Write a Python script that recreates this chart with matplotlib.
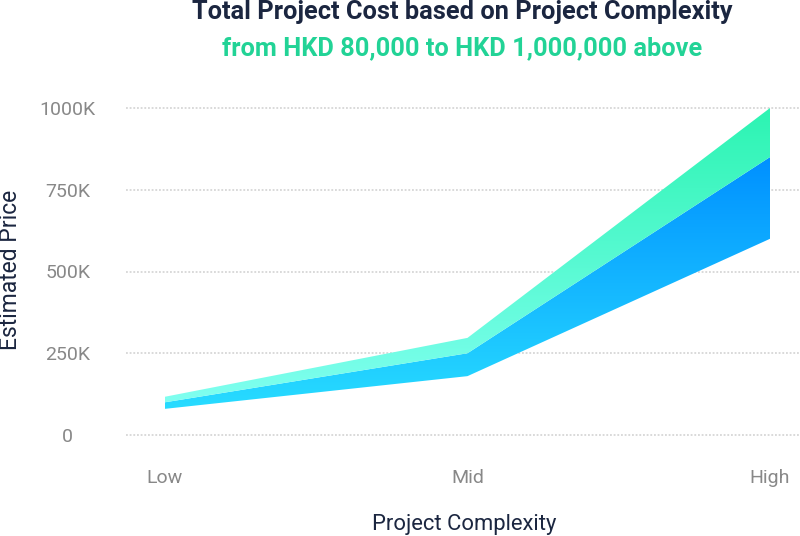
import numpy as np
import matplotlib
matplotlib.use("Agg")
import matplotlib.pyplot as plt
from matplotlib.colors import LinearSegmentedColormap
from matplotlib.patches import PathPatch

# ---- data ----
categories = ["Low", "Mid", "High"]
band_low = [80, 180, 600]      # lower bound (K HKD)
band_mid = [100, 250, 850]     # boundary between bands
band_high = [117, 297, 1000]   # upper bound
yticks = [0, 250, 500, 750, 1000]
ytick_labels = ["0", "250K", "500K", "750K", "1000K"]

plt.rcParams['font.family'] = ['Roboto', 'DejaVu Sans']

W, H = 800, 536
fig = plt.figure(figsize=(W / 100, H / 100), dpi=100)

# axes placement in pixels
ax_left, ax_right, ax_top, ax_bot = 126, 800, 100, 445
ax = fig.add_axes([ax_left / W, 1 - ax_bot / H, (ax_right - ax_left) / W, (ax_bot - ax_top) / H])

# scales: 0 at y=435px, 1000 at y=108px ; Low at x=165, High at x=770
kpp = 1000 / (435 - 108)
ax.set_ylim(-(ax_bot - 435) * kpp, 1000 + (108 - ax_top) * kpp)
upp = 2 / (770 - 165)
ax.set_xlim(-(165 - ax_left) * upp, 2 + (ax_right - 770) * upp)

x = np.arange(len(categories))

def grad_band(lo, hi, c_top, c_bot, y_top, y_bot, z):
    poly = ax.fill_between(x, lo, hi, color='none', lw=0)
    path = poly.get_paths()[0]
    patch = PathPatch(path, facecolor='none', edgecolor='none', transform=ax.transData)
    ax.add_patch(patch)
    cmap = LinearSegmentedColormap.from_list('g', [c_bot, c_top])
    grad = np.linspace(0, 1, 256).reshape(-1, 1)
    im = ax.imshow(grad, cmap=cmap, origin='lower', aspect='auto',
                   extent=[x[0], x[-1], y_bot, y_top], zorder=z, interpolation='bilinear')
    im.set_clip_path(patch)

grad_band(band_low, band_mid, '#0090ff', '#28dcff', max(band_mid), min(band_low), 3)
grad_band(band_mid, band_high, '#2cf4b2', '#80fff0', max(band_high), min(band_mid), 3)

# grid
ax.set_yticks(yticks)
ax.set_yticklabels(ytick_labels)
ax.yaxis.grid(True, color='#cfcfcf', linestyle=(0, (1.2, 1.2)), linewidth=1.1, zorder=1)
ax.set_axisbelow(True)
ax.set_xticks(x)
ax.set_xticklabels(categories)
for s in ax.spines.values():
    s.set_visible(False)
ax.tick_params(axis='y', length=0, pad=42, labelsize=14, labelcolor='#888888')
ax.tick_params(axis='x', length=0, pad=17, labelsize=14, labelcolor='#888888')
for lab in ax.get_yticklabels():
    lab.set_ha('center')

# titles
fig.text(462 / W, 1 - 19.5 / H, "Total Project Cost based on Project Complexity",
         ha='center', va='baseline', fontsize=18.3, fontweight='bold', color='#1b2640')
fig.text(462 / W, 1 - 55 / H, "from HKD 80,000 to HKD 1,000,000 above",
         ha='center', va='baseline', fontsize=18.3, fontweight='bold', color='#22d396')

fig.text(464 / W, 1 - 530 / H, "Project Complexity", ha='center', va='baseline',
         fontsize=15.8, color='#1b2640')
fig.text(17.5 / W, 1 - 270 / H, "Estimated Price", ha='center', va='baseline', rotation=90,
         rotation_mode='anchor', fontsize=16.5, color='#1b2640')

fig.savefig("out.png", dpi=100)
